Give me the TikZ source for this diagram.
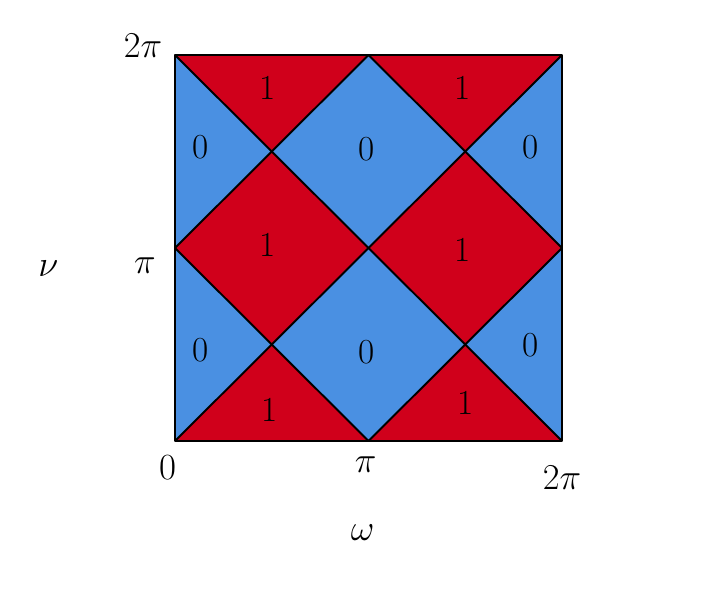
\documentclass[tikz,border=0pt]{standalone}
\usepackage{tikz}
\usetikzlibrary{positioning}
\definecolor{zonered}{RGB}{208,0,27}
\definecolor{zoneblue}{RGB}{74,144,226}
\tikzset{
  % zone colorate
  redzone/.style={fill=zonered, draw=none},
  bluezone/.style={fill=zoneblue, draw=none},
  border/.style={draw=black, line width=1.1pt, line join=round},
  zonelabel/.style={font=\fontsize{20}{24}\selectfont, anchor=center},
  axislabel/.style={font=\fontsize{21}{25}\selectfont, anchor=center}
}

\begin{document}
\begin{tikzpicture}

\useasboundingbox (0,0) rectangle (14.56,11.8);

\begin{scope}[xshift=3.5cm, yshift=2.98cm, x=1.935cm, y=1.93cm]

% Sfondo blu
\fill[bluezone] (0,0) rectangle (4,4);

% Zone rosse - triangoli in alto
\fill[redzone] (0,4) -- (2,4) -- (1,3) -- cycle;
\fill[redzone] (2,4) -- (4,4) -- (3,3) -- cycle;

% Zone rosse - rombi centrali
\fill[redzone] (0,2) -- (1,3) -- (2,2) -- (1,1) -- cycle;
\fill[redzone] (2,2) -- (3,3) -- (4,2) -- (3,1) -- cycle;

% Zone rosse - triangoli in basso
\fill[redzone] (0,0) -- (2,0) -- (1,1) -- cycle;
\fill[redzone] (2,0) -- (4,0) -- (3,1) -- cycle;

% Linee
\draw[border] (0,0) rectangle (4,4);
\draw[border] (0,0) -- (4,4);
\draw[border] (0,4) -- (4,0);
\draw[border] (0,2) -- (2,4) -- (4,2) -- (2,0) -- cycle;

% Etichette delle zone
\node[zonelabel] (t1) at (0.96,3.66) {1};
\node[zonelabel] (t2) at (2.97,3.66) {1};
\node[zonelabel] (u1) at (0.26,3.05) {0};
\node[zonelabel] (u2) at (1.98,3.02) {0};
\node[zonelabel] (u3) at (3.67,3.05) {0};
\node[zonelabel] (m1) at (0.96,2.03) {1};
\node[zonelabel] (m2) at (2.97,1.98) {1};
\node[zonelabel] (l1) at (0.26,0.94) {0};
\node[zonelabel] (l2) at (1.98,0.92) {0};
\node[zonelabel] (l3) at (3.67,0.99) {0};
\node[zonelabel] (b1) at (0.98,0.32) {1};
\node[zonelabel] (b2) at (3.00,0.39) {1};

% Assi
\node[axislabel] (ytop) at (-0.33,4.10) {$2\pi$};
\node[axislabel] (ymid) at (-0.31,1.82) {$\pi$};
\node[axislabel] (nu) at (-1.31,1.79) {$\nu$};
\node[axislabel] (xzero) at (-0.07,-0.28) {0};
\node[axislabel] (xmid) at (1.97,-0.25) {$\pi$};
\node[axislabel] (xtop) at (4.00,-0.38) {$2\pi$};
\node[axislabel] (omega) at (1.94,-0.95) {$\omega$};

\end{scope}

\end{tikzpicture}
\end{document}
